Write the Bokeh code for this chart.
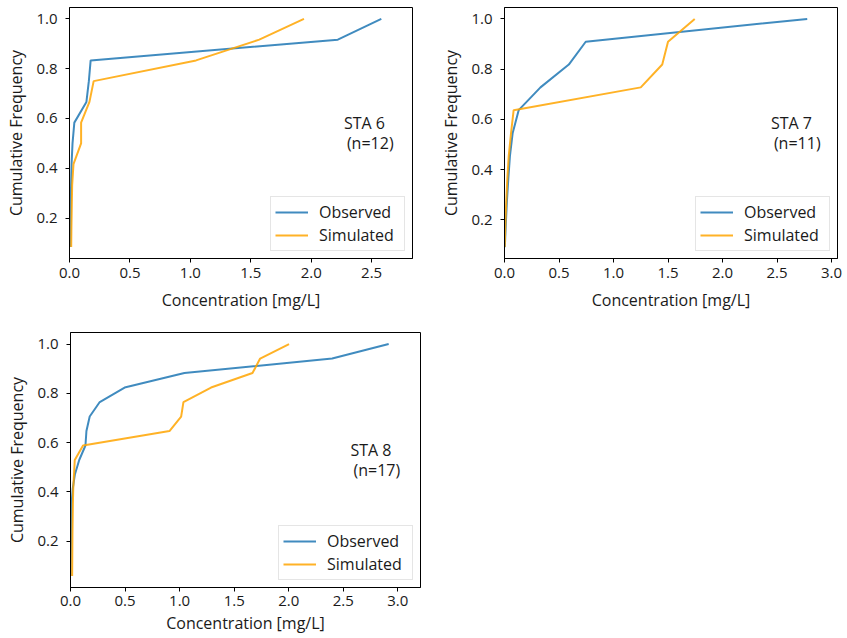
from bokeh.plotting import figure
from bokeh.layouts import column, row
from bokeh.models import FixedTicker, Range1d, Label, Legend, LegendItem, NumeralTickFormatter
from bokeh.embed import file_html
from bokeh.resources import INLINE

# ---- data (concentrations in mg/L, sorted; cumulative frequency = rank / n) ----
station_names = ["STA 6", "STA 7", "STA 8"]
station_n = [12, 11, 17]

obs_sta6 = [0.005, 0.008, 0.010, 0.013, 0.017, 0.025, 0.040, 0.140, 0.160, 0.175, 2.220, 2.580]
sim_sta6 = [0.014, 0.016, 0.019, 0.022, 0.033, 0.096, 0.096, 0.165, 0.200, 1.047, 1.570, 1.940]

obs_sta7 = [0.003, 0.012, 0.022, 0.035, 0.050, 0.075, 0.130, 0.330, 0.590, 0.745, 2.777]
sim_sta7 = [0.002, 0.008, 0.016, 0.026, 0.039, 0.060, 0.084, 1.250, 1.447, 1.500, 1.745]

obs_sta8 = [0.000, 0.002, 0.004, 0.006, 0.008, 0.010, 0.020, 0.040, 0.080, 0.137,
            0.146, 0.176, 0.268, 0.496, 1.044, 2.398, 2.916]
sim_sta8 = [0.015, 0.016, 0.017, 0.018, 0.020, 0.022, 0.025, 0.032, 0.039, 0.115,
            0.907, 1.014, 1.035, 1.288, 1.668, 1.738, 2.003]

x_ticks_sta6 = [0.0, 0.5, 1.0, 1.5, 2.0, 2.5]
x_ticks_sta7 = [0.0, 0.5, 1.0, 1.5, 2.0, 2.5, 3.0]
x_ticks_sta8 = [0.0, 0.5, 1.0, 1.5, 2.0, 2.5, 3.0]
y_ticks = [0.2, 0.4, 0.6, 0.8, 1.0]

series_labels = ["Observed", "Simulated"]
series_colors = ["#1f77b4", "#ffa500"]

FONT = "Open Sans"
TXT = "#1a1a1a"


def ecdf(vals):
    n = len(vals)
    xs = sorted(vals)
    ys = [(i + 1) / n for i in range(n)]
    return xs, ys


def panel(name, n, obs, sim, xticks, width, height, bl, br, bt, bb, x_std=(5, 8)):
    xmax = 1.1 * max(max(obs), max(sim))
    ymin = 1.0 / n
    span = 1.0 - ymin
    y0, y1 = ymin - 0.05 * span, 1.0 + 0.05 * span
    p = figure(width=width, height=height, output_backend="svg", toolbar_location=None,
               x_range=Range1d(0, xmax), y_range=Range1d(y0, y1),
               min_border_left=bl, min_border_right=br, min_border_top=bt, min_border_bottom=bb)
    p.grid.visible = False
    p.outline_line_color = "black"
    p.outline_line_width = 1
    p.background_fill_color = "white"
    p.border_fill_color = "white"

    for ax in (p.xaxis[0], p.yaxis[0]):
        ax.major_tick_out = 4
        ax.major_tick_in = 0
        ax.minor_tick_out = 0
        ax.minor_tick_in = 0
        ax.axis_line_color = "black"
        ax.major_tick_line_color = "black"
        ax.major_label_text_font = FONT
        ax.major_label_text_font_size = "15px"
        ax.major_label_text_color = TXT
        ax.axis_label_text_font = FONT
        ax.axis_label_text_font_size = "16px"
        ax.axis_label_text_font_style = "normal"
        ax.axis_label_text_color = TXT
        ax.formatter = NumeralTickFormatter(format="0.0")

    p.xaxis.major_label_standoff = x_std[0]
    p.xaxis.axis_label_standoff = x_std[1]
    p.yaxis.major_label_standoff = 8
    p.yaxis.axis_label_standoff = 6

    p.xaxis.ticker = FixedTicker(ticks=xticks)
    p.yaxis.ticker = FixedTicker(ticks=y_ticks)
    p.xaxis.axis_label = "Concentration [mg/L]"
    p.yaxis.axis_label = "Cumulative Frequency"

    renderers = []
    for vals, col in zip([obs, sim], series_colors):
        xs, ys = ecdf(vals)
        r = p.line(xs, ys, line_color=col, line_width=2, line_alpha=0.85)
        renderers.append(r)

    legend = Legend(items=[LegendItem(label=lab, renderers=[r])
                           for lab, r in zip(series_labels, renderers)],
                    location="bottom_right")
    legend.margin = 7
    legend.padding = 4
    legend.spacing = 1
    legend.glyph_width = 33
    legend.glyph_height = 18
    legend.label_height = 18
    legend.label_width = 81
    legend.label_standoff = 11
    legend.label_text_font = FONT
    legend.label_text_font_size = "16px"
    legend.label_text_color = TXT
    legend.border_line_color = "#cccccc"
    legend.border_line_width = 1
    legend.background_fill_color = "white"
    legend.background_fill_alpha = 0.8
    p.add_layout(legend)

    lx = 0.80 * xmax
    p.add_layout(Label(x=lx, y=y0 + 0.538 * (y1 - y0), text=name, text_font=FONT,
                       text_font_size="16px", text_color=TXT, text_baseline="middle"))
    p.add_layout(Label(x=lx, y=y0 + 0.461 * (y1 - y0), text="(n=%d)" % n, x_offset=3,
                       text_font=FONT, text_font_size="16px", text_color=TXT,
                       text_baseline="middle"))
    return p


p1 = panel(station_names[0], station_n[0], obs_sta6, sim_sta6, x_ticks_sta6, 437, 315, 69, 25, 7, 57)
p2 = panel(station_names[1], station_n[1], obs_sta7, sim_sta7, x_ticks_sta7, 409, 315, 59, 9, 7, 57)
p3 = panel(station_names[2], station_n[2], obs_sta8, sim_sta8, x_ticks_sta8, 445, 323, 70, 25, 17, 51,
           x_std=(4, 3))

layout = column(row(p1, p2), row(p3))
open("out.html", "w").write(file_html(layout, INLINE))
